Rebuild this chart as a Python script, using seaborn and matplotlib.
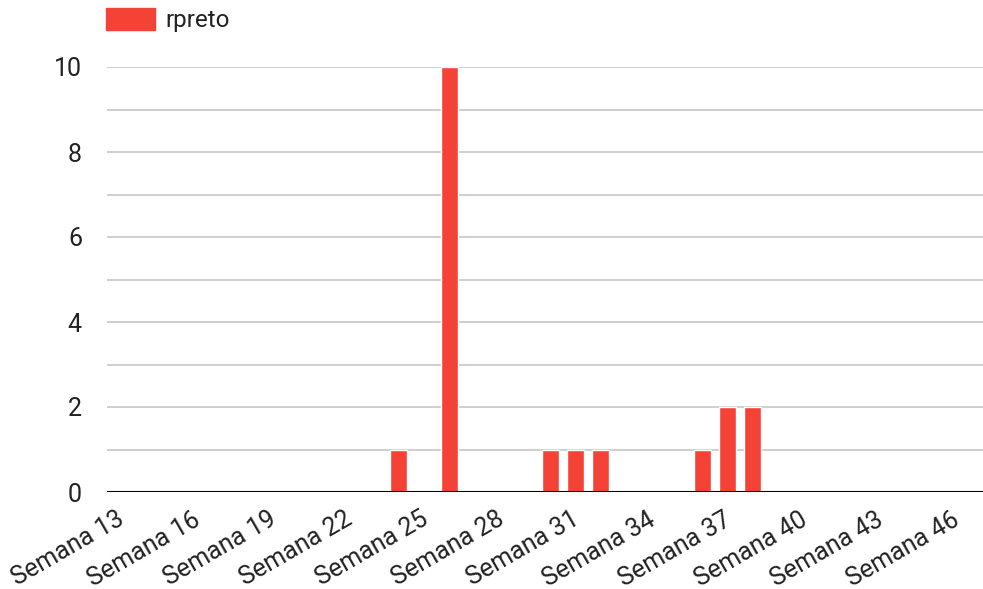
import matplotlib
matplotlib.use('Agg')
import matplotlib.pyplot as plt
import matplotlib.patches as mpatches
import matplotlib.transforms as mtransforms
import seaborn as sns
import pandas as pd
import numpy as np

weeks = list(range(13, 48))
labels = [f"Semana {w}" for w in weeks]
counts = {24: 1, 26: 10, 30: 1, 31: 1, 32: 1, 36: 1, 37: 2, 38: 2}
values = [counts.get(w, 0) for w in weeks]
series_name = "rpreto"
bar_color = "#f44336"

df = pd.DataFrame({"semana": labels, "valor": values})

sns.set_style("white")
plt.rcParams['font.family'] = ['Roboto', 'DejaVu Sans']

fig = plt.figure(figsize=(9.83, 5.89), dpi=100)
ax = fig.add_axes([107 / 983, 97 / 589, 876 / 983, 425 / 589])

sns.barplot(data=df, x="semana", y="valor", color=bar_color, width=0.67,
            saturation=1, ax=ax, zorder=3)

ax.set_xlim(-0.52, 34.1)
ax.set_ylim(0, 10)
ax.set_yticks(range(0, 11, 2))
ax.set_yticks(range(0, 11), minor=True)
ax.grid(axis='y', which='both', color='#cccccc', linewidth=1.3, zorder=0)
ax.set_axisbelow(True)
ax.axhline(0, color='black', linewidth=2.2, zorder=4)

tick_pos = list(range(0, len(weeks), 3))
ax.set_xticks(tick_pos)
ax.set_xticklabels([labels[i] for i in tick_pos], rotation=30, ha='right',
                   va='top', rotation_mode='anchor', fontsize=18, color='#222222')
ax.tick_params(axis='x', length=0, pad=11)
# shift the slanted labels a bit to the left, like the original
shift = mtransforms.ScaledTranslation(-4 / 100, 0, fig.dpi_scale_trans)
for t in ax.get_xticklabels():
    t.set_transform(t.get_transform() + shift)
ax.tick_params(axis='y', which='both', length=0, pad=18, labelsize=18, labelcolor='#222222')
ax.set_xlabel('')
ax.set_ylabel('')
for s in ax.spines.values():
    s.set_visible(False)

handle = mpatches.Patch(color=bar_color, label=series_name)
fig.legend(handles=[handle], loc='upper left', bbox_to_anchor=(106 / 983, 1 - 8 / 589),
           frameon=False, fontsize=17.5, handlelength=2.0, handleheight=1.0,
           handletextpad=0.45, borderpad=0, borderaxespad=0, labelcolor='#222222')

fig.savefig("out.png", dpi=100)
